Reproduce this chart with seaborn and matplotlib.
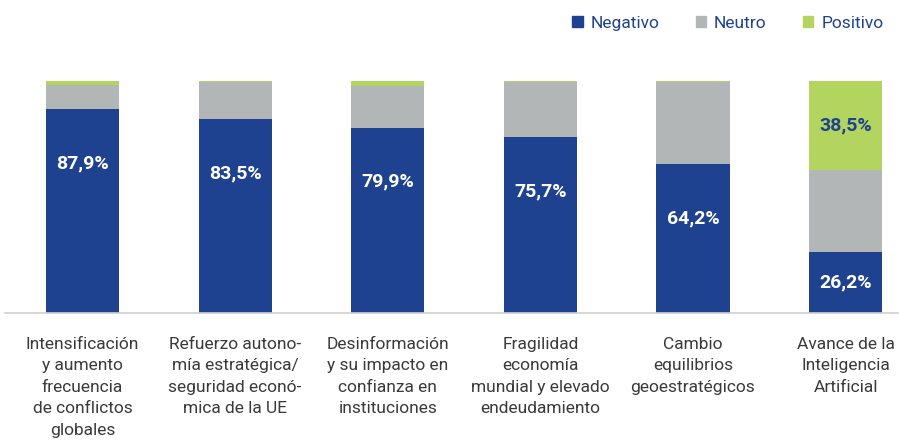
import pandas as pd
import numpy as np
import matplotlib.pyplot as plt
import seaborn as sns
from matplotlib.patches import Patch

categorias = [
    "Intensificación\ny aumento\nfrecuencia\nde conflictos\nglobales",
    "Refuerzo autono-\nmía estratégica/\nseguridad econó-\nmica de la UE",
    "Desinformación\ny su impacto en\nconfianza en\ninstituciones",
    "Fragilidad\neconomía\nmundial y elevado\nendeudamiento",
    "Cambio\nequilibrios\ngeoestratégicos",
    "Avance de la\nInteligencia\nArtificial",
]
negativo = [87.9, 83.5, 79.9, 75.7, 64.2, 26.2]
neutro = [10.5, 16.2, 18.1, 23.9, 35.5, 35.3]
positivo = [1.6, 0.3, 2.0, 0.4, 0.3, 38.5]

azul = "#1f4290"
gris = "#b3b6b7"
verde = "#b3d55f"

df = pd.DataFrame({"cat": categorias, "neg": negativo, "neu": neutro, "pos": positivo})
df["neg_neu"] = df["neg"] + df["neu"]
df["total"] = df["neg_neu"] + df["pos"]

sns.set_style("white")
plt.rcParams["font.family"] = ["Roboto", "DejaVu Sans"]

fig = plt.figure(figsize=(8.99, 4.41), dpi=100)
ax = fig.add_axes([5 / 899, 128 / 441, 894 / 899, 232 / 441])

# stacked bars drawn as overlapping cumulative totals
for col, c in [("total", verde), ("neg_neu", gris), ("neg", azul)]:
    sns.barplot(data=df, x="cat", y=col, color=c, width=0.48, saturation=1,
                linewidth=0, ax=ax)

for i, v in enumerate(negativo):
    y = max(v / 2, v - 23.3)
    ax.text(i, y, f"{v:.1f}%".replace(".", ","), ha="center", va="center",
            color="white", fontsize=14, fontweight="bold")
for i, (b, p) in enumerate(zip(df["neg_neu"], positivo)):
    if p > 10:
        ax.text(i, b + p / 2, f"{p:.1f}%".replace(".", ","), ha="center", va="center",
                color=azul, fontsize=14, fontweight="bold")

ax.set_xlim(-0.508, 5.35)
ax.set_ylim(0, 100)
ax.set_xlabel("")
ax.set_ylabel("")
ax.set_yticks([])
ax.set_xticks(range(len(categorias)))
ax.set_xticklabels(categorias, fontsize=12.5, color="#3a3a3a", linespacing=1.55)
ax.tick_params(axis="x", length=0, pad=17)
for s in ["top", "right", "left"]:
    ax.spines[s].set_visible(False)
ax.spines["bottom"].set_color("#cfcfcf")
ax.spines["bottom"].set_linewidth(1.2)

# legend
handles = [Patch(color=azul, label="Negativo"), Patch(color=gris, label="Neutro"),
           Patch(color=verde, label="Positivo")]
leg = fig.legend(handles=handles, loc="upper right", bbox_to_anchor=(1.0, 1.0), ncol=3,
                 frameon=False, fontsize=12.5, handlelength=0.6, handleheight=0.6,
                 handletextpad=0.45, columnspacing=2.1)
for t in leg.get_texts():
    t.set_color(azul)

fig.savefig("out.png", dpi=100)
